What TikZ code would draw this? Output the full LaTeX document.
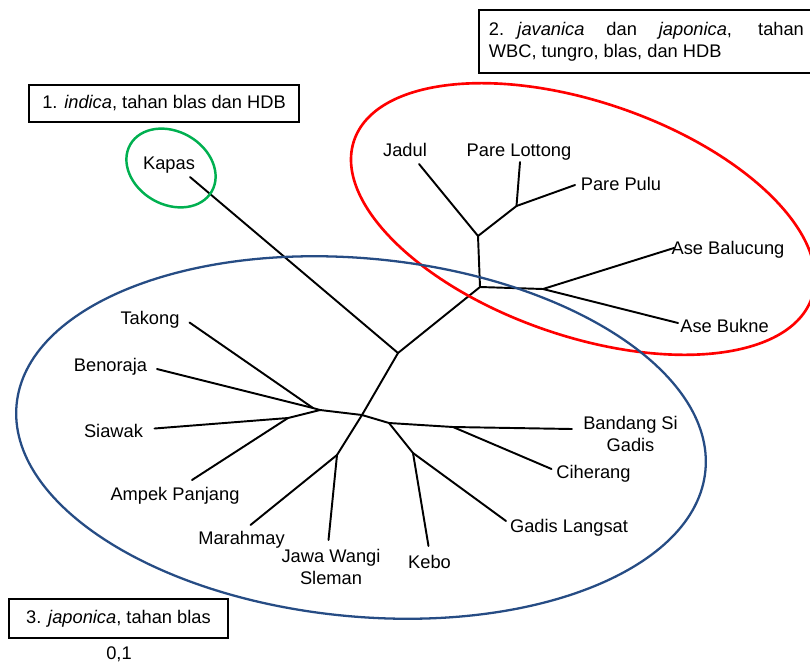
\documentclass[tikz,border=0pt]{standalone}
\usepackage{fontspec}
\setmainfont{Liberation Sans}
\usepackage{tikz}
\definecolor{indgreen}{RGB}{0,176,80}
\definecolor{javred}{RGB}{255,0,0}
\definecolor{japblue}{RGB}{38,76,132}

\begin{document}
\begin{tikzpicture}[x=0.02cm, y=-0.02cm, every node/.style={font=\fontsize{10.4}{12.5}\selectfont},
    branch/.style={line width=1.1pt, line cap=round, line join=round},
    lbl/.style={anchor=base, inner sep=0pt},
    groupbox/.style={draw, rectangle, line width=1.1pt}]
    \useasboundingbox (0,0) rectangle (810,666);
    \coordinate (root) at (398,353);
    \coordinate (jav) at (480,287);
    \coordinate (jad) at (478,236);
    \coordinate (pare) at (516.5,206);
    \coordinate (ase) at (543,289);
    \coordinate (jap) at (362,415);
    \coordinate (grp) at (320,410);
    \coordinate (tak) at (313,408);
    \coordinate (sia) at (288,418);
    \coordinate (mar) at (337,455);
    \coordinate (ban) at (389,423);
    \coordinate (cih) at (453,427);
    \coordinate (keb) at (413,453);
    \coordinate (tKapas) at (190,177);
    \coordinate (tJadul) at (419,164);
    \coordinate (tLottong) at (520,162);
    \coordinate (tPulu) at (575,185);
    \coordinate (tBalucung) at (674,248);
    \coordinate (tBukne) at (678,323);
    \coordinate (tTakong) at (189.5,322.5);
    \coordinate (tBenoraja) at (157,369);
    \coordinate (tSiawak) at (154.5,428.5);
    \coordinate (tAmpek) at (192,480);
    \coordinate (tMarahmay) at (250.5,525);
    \coordinate (tJawa) at (328.5,540);
    \coordinate (tKebo) at (428.5,546);
    \coordinate (tLangsat) at (506,521);
    \coordinate (tCiherang) at (551.5,469);
    \coordinate (tBandang) at (572,429);
    \node[lbl] (Kapas) at (169,169.5) {Kapas};
    \node[lbl] (Jadul) at (405,156.5) {Jadul};
    \node[lbl] (Lottong) at (519,156.5) {Pare Lottong};
    \node[lbl] (Pulu) at (621,190.7) {Pare Pulu};
    \node[lbl] (Balucung) at (728,254.3) {Ase Balucung};
    \node[lbl] (Bukne) at (724.5,332.7) {Ase Bukne};
    \node[lbl] (Takong) at (150,324) {Takong};
    \node[lbl] (Benoraja) at (110.5,371.3) {Benoraja};
    \node[lbl] (Siawak) at (113.5,437.3) {Siawak};
    \node[lbl] (Ampek) at (175,500.3) {Ampek Panjang};
    \node[lbl] (Marahmay) at (241.5,544.7) {Marahmay};
    \node[align=center, inner sep=0pt] (Jawa) at (331,566.5) {Jawa Wangi\\Sleman};
    \node[lbl] (Kebo) at (429.5,568) {Kebo};
    \node[lbl] (Langsat) at (569,532.3) {Gadis Langsat};
    \node[lbl] (Ciherang) at (593.5,478.7) {Ciherang};
    \node[align=center, inner sep=0pt] (Bandang) at (630.5,434) {Bandang Si\\Gadis};
    \node[lbl] (scale) at (119,659.7) {0,1};
    \node[groupbox, minimum width=5.4cm, minimum height=0.74cm] (grp1) at (164,103.5) {1. \textit{indica}, tahan blas dan HDB};
    \node[groupbox, anchor=north west, text width=6.3cm, align=justify, inner xsep=0.2cm, minimum height=1.26cm] (grp2) at (478,9)
        {\hangindent=0.57cm\hangafter=1\makebox[0.57cm][l]{2.}\textit{javanica} dan \textit{japonica}, tahan\linebreak WBC, tungro, blas, dan HDB};
    \node[groupbox, minimum width=4.38cm, minimum height=0.78cm] (grp3) at (118.5,618.5) {3. \textit{japonica}, tahan blas};
    \draw[branch] (root) -- (tKapas);
    \draw[branch] (root) -- (jav);
    \draw[branch] (root) -- (jap);
    \draw[branch] (jav) -- (jad);
    \draw[branch] (jav) -- (ase);
    \draw[branch] (jad) -- (tJadul);
    \draw[branch] (jad) -- (pare);
    \draw[branch] (pare) -- (tLottong);
    \draw[branch] (pare) -- (tPulu);
    \draw[branch] (ase) -- (tBalucung);
    \draw[branch] (ase) -- (tBukne);
    \draw[branch] (jap) -- (grp);
    \draw[branch] (jap) -- (mar);
    \draw[branch] (jap) -- (ban);
    \draw[branch] (grp) -- (tak);
    \draw[branch] (grp) -- (sia);
    \draw[branch] (tak) -- (tTakong);
    \draw[branch] (tak) -- (tBenoraja);
    \draw[branch] (sia) -- (tSiawak);
    \draw[branch] (sia) -- (tAmpek);
    \draw[branch] (mar) -- (tMarahmay);
    \draw[branch] (mar) -- (tJawa);
    \draw[branch] (ban) -- (cih);
    \draw[branch] (ban) -- (keb);
    \draw[branch] (cih) -- (tBandang);
    \draw[branch] (cih) -- (tCiherang);
    \draw[branch] (keb) -- (tKebo);
    \draw[branch] (keb) -- (tLangsat);
    \draw[indgreen, line width=1.4pt, rotate around={-30:(171,168)}] (171,168) ellipse [x radius=47, y radius=36.5];
    \draw[javred, line width=1.5pt, rotate around={-19:(583,219)}] (583,219) ellipse [x radius=242, y radius=117];
    \draw[japblue, line width=1.3pt, rotate around={-5.5:(361,437.5)}] (361,437.5) ellipse [x radius=346, y radius=179];
\end{tikzpicture}
\end{document}
